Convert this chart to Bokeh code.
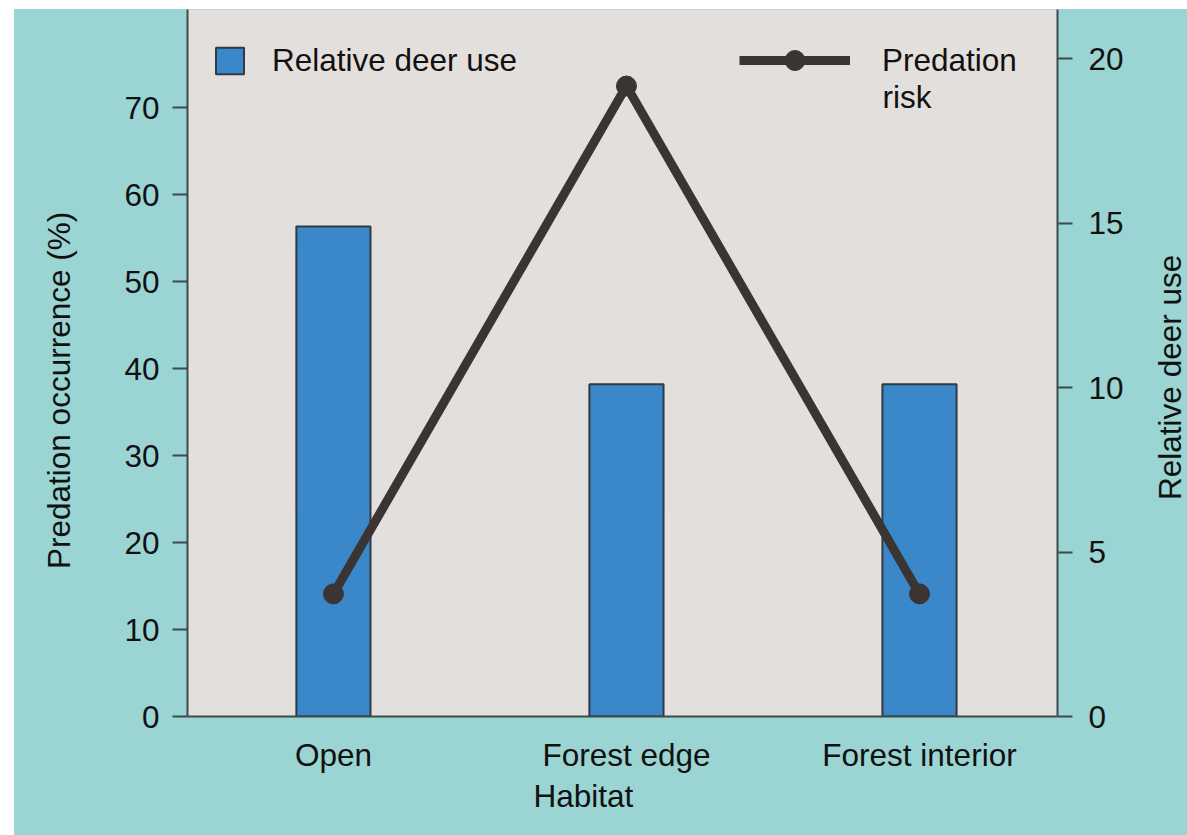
import math
from bokeh.plotting import figure
from bokeh.layouts import row
from bokeh.models import Range1d, LinearAxis, FixedTicker, Legend, LegendItem, Label, Title
from bokeh.core.properties import value
from bokeh.embed import file_html
from bokeh.resources import INLINE

# ---- data ----
habitats = ["Open", "Forest edge", "Forest interior"]
x_pos = [0, 1, 2]
relative_deer_use = [14.9, 10.1, 10.1]          # right axis
predation_occurrence = [14.1, 72.5, 14.1]       # left axis (%)
left_ticks = [0, 10, 20, 30, 40, 50, 60, 70]
right_ticks = [0, 5, 10, 15, 20]
left_axis_title = "Predation occurrence (%)"
right_axis_title = "Relative deer use"
x_axis_title = "Habitat"

FONT = "Liberation Sans"
FS = "31.5px"
TEAL = "#9ad5d3"
PANEL = "#e3dfdc"
AXIS = "#3d4a4c"
BAR = "#3a88c9"
BAR_EDGE = "#2f3a42"
LINE = "#3a3533"
TXT = "#111111"

p = figure(width=1037, height=826, output_backend="svg", toolbar_location=None,
           x_range=Range1d(-0.498, 2.471), y_range=Range1d(0, 81.3),
           background_fill_color=PANEL, border_fill_color=None,
           min_border_left=87, min_border_right=80, min_border_top=0,
           min_border_bottom=119, y_axis_location="left")
p.margin = (9, 0, 0, 0)
p.styles = {"background-color": TEAL}
p.outline_line_color = None
p.grid.visible = False

p.extra_y_ranges = {"deer": Range1d(0, 21.5)}

bars = p.vbar(x=x_pos, top=relative_deer_use, width=0.253, y_range_name="deer",
              fill_color=BAR, line_color=BAR_EDGE, line_width=2)
line = p.line(x_pos, predation_occurrence, line_width=9, line_color=LINE)
pts = p.scatter(x_pos, predation_occurrence, size=20, fill_color=LINE, line_color=LINE)

# left axis (its title is drawn in the narrow strip on the left)
ya = p.yaxis[0]
ya.ticker = FixedTicker(ticks=left_ticks)

# right axis (its title is drawn in the narrow strip on the right)
ra = LinearAxis(y_range_name="deer", ticker=FixedTicker(ticks=right_ticks))
p.add_layout(ra, "right")

# bottom axis
xa = p.xaxis[0]
xa.ticker = FixedTicker(ticks=x_pos)
xa.major_label_overrides = {i: h for i, h in zip(x_pos, habitats)}
xa.major_tick_out = 0
xa.major_tick_in = 0
xa.major_label_standoff = 20

for ax in (ya, ra):
    ax.major_tick_out = 15
    ax.major_tick_in = 0
    ax.major_tick_line_width = 2
    ax.major_tick_line_color = AXIS
ya.major_label_standoff = 13
ra.major_label_standoff = 16

for ax in (ya, ra, xa):
    ax.minor_tick_line_color = None
    ax.axis_line_color = AXIS
    ax.axis_line_width = 2
    ax.major_label_text_font = FONT
    ax.major_label_text_font_size = FS
    ax.major_label_text_color = TXT

# x axis title, left-aligned under "Forest edge"
p.add_layout(Title(text=x_axis_title, align="left", offset=346, standoff=0,
                   text_font=FONT, text_font_size=FS, text_font_style="normal",
                   text_color=TXT), "below")

# legends
common = dict(padding=0, margin=0, background_fill_alpha=0, border_line_color=None,
              label_text_font=FONT, label_text_font_size=FS, label_text_color=TXT)
leg1 = Legend(items=[LegendItem(label="Relative deer use", renderers=[bars])],
              location=(25, 637), glyph_width=35, glyph_height=33, label_standoff=25, **common)
leg2 = Legend(items=[LegendItem(label="Predation", renderers=[line, pts])],
              location=(552, 631), glyph_width=111, glyph_height=50, label_standoff=32, **common)
p.add_layout(leg1)
p.add_layout(leg2)

p.add_layout(Label(x=1.874, y=71.2, text="risk", text_baseline="alphabetic",
                   text_font=FONT, text_font_size=FS, text_color=TXT))


def title_strip(width, margin, text, x, y):
    s = figure(width=width, height=826, output_backend="svg", toolbar_location=None,
               x_range=Range1d(0, width), y_range=Range1d(0, 81.3),
               background_fill_color=None, border_fill_color=None, min_border=0)
    s.margin = margin
    s.styles = {"background-color": TEAL}
    s.outline_line_color = None
    s.axis.visible = False
    s.grid.visible = False
    s.text(x=[x], y=[y], text=[text], angle=math.pi / 2,
           text_align="center", text_baseline="middle",
           text_font=value(FONT), text_font_size=value(FS), text_color=TXT)
    return s


ql = title_strip(86, (9, 0, 0, 14), left_axis_title, 44, 37.5)
qr = title_strip(50, (9, 0, 0, 0), right_axis_title, 32, 39.0)

layout = row(ql, p, qr, spacing=0)
open("out.html", "w").write(file_html(layout, INLINE))
